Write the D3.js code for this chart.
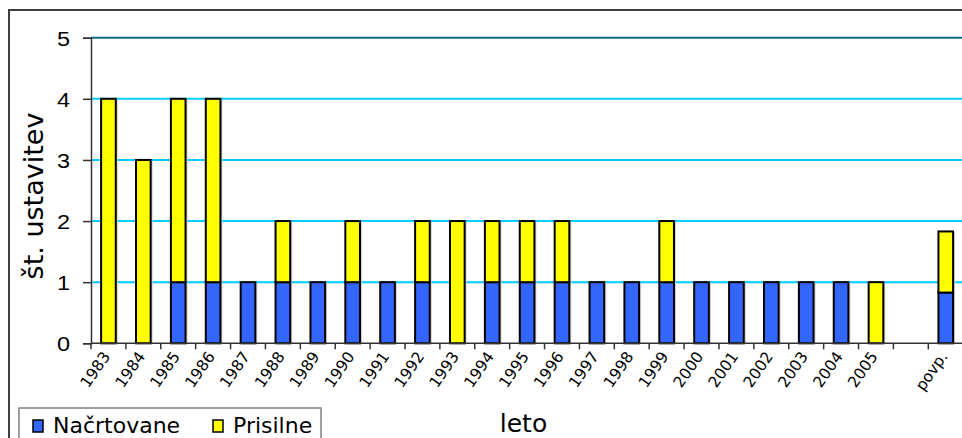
<!DOCTYPE html>
<html><head><meta charset="utf-8">
<script src="https://cdn.jsdelivr.net/npm/d3@7"></script>
<style>html,body{margin:0;padding:0;background:#fff;}svg{display:block;}</style>
</head><body>
<svg id="c" width="962" height="438"></svg>
<script>
const categories = ['1983','1984','1985','1986','1987','1988','1989','1990','1991','1992','1993','1994','1995','1996','1997','1998','1999','2000','2001','2002','2003','2004','2005','','povp.'];
const nacrtovane = [0,0,1,1,1,1,1,1,1,1,0,1,1,1,1,1,1,1,1,1,1,1,0,0,0.83];
const prisilne   = [4,3,3,3,0,1,0,1,0,1,2,1,1,1,0,0,1,0,0,0,0,0,1,0,1.0];
const seriesNames = ['Načrtovane','Prisilne'];
const seriesColors = ['#3366FF','#FFFF00'];
const yTicks = [0,1,2,3,4,5];

const svg = d3.select('#c');
const L = 91, R = 963.2, T = 37.7, B = 343.3;

// outer chart border
svg.append('rect').attr('x',9).attr('y',10).attr('width',1000).attr('height',500)
  .attr('fill','#fff').attr('stroke','#404040').attr('stroke-width',2);

const x = d3.scaleBand().domain(categories.map((c,i)=>i)).range([L,R]).padding(0);
const y = d3.scaleLinear().domain([0,5]).range([B,T]);

// gridlines
svg.append('g').selectAll('line').data(yTicks.filter(t=>t>0)).join('line')
  .attr('x1',L).attr('x2',R).attr('y1',d=>y(d)).attr('y2',d=>y(d))
  .attr('stroke',d=>d===5?'#0a6a85':'#00CCFF').attr('stroke-width',2);

// stacked data
const rows = categories.map((c,i)=>({i, n:nacrtovane[i], p:prisilne[i]}));
const stack = d3.stack().keys(['n','p'])(rows);
const bw = x.bandwidth()*0.42;
const gBars = svg.append('g');
stack.forEach((s,si)=>{
  const data = s.filter(d=>d[1]-d[0]>0);
  gBars.selectAll(null).data(data).join('rect')
    .attr('x',d=>x(d.data.i)+(x.bandwidth()-bw)/2+2)
    .attr('y',d=>y(d[1])+1)
    .attr('width',bw).attr('height',d=>y(d[0])-y(d[1]))
    .attr('fill','#d0d0d0');
});
stack.forEach((s,si)=>{
  const data = s.filter(d=>d[1]-d[0]>0);
  gBars.selectAll(null).data(data).join('rect')
    .attr('x',d=>x(d.data.i)+(x.bandwidth()-bw)/2)
    .attr('y',d=>y(d[1]))
    .attr('width',bw).attr('height',d=>y(d[0])-y(d[1]))
    .attr('fill',seriesColors[si]).attr('stroke','#000').attr('stroke-width',2);
});

// y axis
const yAxis = d3.axisLeft(y).tickValues(yTicks).tickSize(8).tickFormat('');
const gy = svg.append('g').attr('transform',`translate(${L},0)`).call(yAxis);
gy.select('.domain').attr('stroke','#333').attr('stroke-width',1.5);
gy.selectAll('.tick line').attr('stroke','#333').attr('stroke-width',1.5);
gy.selectAll('.tick').append('text')
  .attr('transform','translate(-21,0) scale(1.12,1)')
  .attr('text-anchor','end').attr('dy','0.36em')
  .attr('font-family','Liberation Sans, Arial, sans-serif')
  .attr('font-size',21).attr('fill','#000').text(d=>d3.format('d')(d));

// x axis with boundary ticks
const boundaries = d3.range(categories.length+1).map(i=>L+i*x.bandwidth());
const gx = svg.append('g');
gx.append('line').attr('x1',L).attr('x2',R).attr('y1',B).attr('y2',B).attr('stroke','#333').attr('stroke-width',1.5);
gx.selectAll('line.t').data(boundaries).join('line').attr('class','t')
  .attr('x1',d=>d).attr('x2',d=>d).attr('y1',B).attr('y2',B+6).attr('stroke','#333').attr('stroke-width',1.5);
gx.selectAll('text').data(categories.map((c,i)=>({c,i})).filter(d=>d.c!=='')).join('text')
  .attr('transform',d=>`translate(${x(d.i)+x.bandwidth()/2-2},${B+10}) rotate(-55)`)
  .attr('text-anchor','end').attr('dy','0.35em')
  .attr('font-family','DejaVu Sans, Verdana, sans-serif').attr('font-size',15.5).attr('fill','#000')
  .text(d=>d.c);

// axis titles
svg.append('text').attr('x',523.5).attr('y',432).attr('text-anchor','middle')
  .attr('font-family','DejaVu Sans, Verdana, sans-serif').attr('font-size',25).attr('fill','#000').text('leto');
svg.append('text').attr('transform','translate(43,196) rotate(-90)').attr('text-anchor','middle')
  .attr('font-family','DejaVu Sans, Verdana, sans-serif').attr('font-size',27).attr('fill','#000').text('št. ustavitev');

// legend
const lg = svg.append('g');
lg.append('rect').attr('x',19).attr('y',408).attr('width',302).attr('height',60)
  .attr('fill','#fff').attr('stroke','#808080').attr('stroke-width',1.5);
const legX = [33, 213], legTX = [53, 233];
seriesNames.forEach((n,i)=>{
  lg.append('rect').attr('x',legX[i]).attr('y',420).attr('width',10).attr('height',12)
    .attr('fill',seriesColors[i]).attr('stroke','#000').attr('stroke-width',1.5);
  lg.append('text').attr('x',legTX[i]).attr('y',433)
    .attr('font-family','DejaVu Sans, Verdana, sans-serif').attr('font-size',22).attr('fill','#000').text(n);
});
</script>
</body></html>
